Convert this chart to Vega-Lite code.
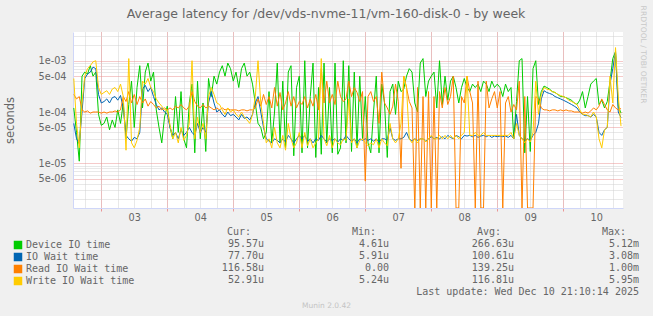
{
"$schema": "https://vega.github.io/schema/vega-lite/v6.json",
"width": 550, "height": 176,
"autosize": {"type": "none"},
"padding": {"left": 73, "top": 32, "right": 30, "bottom": 108},
"background": "#f0f0f0",
"config": {"view": {"fill": "#ffffff", "stroke": null}, "font": "DejaVu Sans"},
"title": {"text": "Average latency for /dev/vds-nvme-11/vm-160-disk-0 - by week", "font": "DejaVu Sans", "fontSize": 12.5, "fontWeight": "normal", "color": "#666666", "anchor": "middle", "frame": "group", "dx": -22, "offset": -15},
"datasets": {
"lat": [
{"t":"2025-12-02T14:00","Device IO time":1.2e-4,"IO Wait time":6e-5,"Read IO Wait time":2.2e-4,"Write IO Wait time":4.5e-4},
{"t":"2025-12-02T15:00","Device IO time":4e-5,"IO Wait time":3e-5,"Read IO Wait time":1.8e-4,"Write IO Wait time":6e-5},
{"t":"2025-12-02T16:00","Device IO time":1.1e-5,"IO Wait time":2.4e-5,"Read IO Wait time":2e-4,"Write IO Wait time":2e-5},
{"t":"2025-12-02T17:00","Device IO time":5e-4,"IO Wait time":1e-4,"Read IO Wait time":1.1e-4,"Write IO Wait time":1.5e-4},
{"t":"2025-12-02T18:00","Device IO time":6e-4,"IO Wait time":4.5e-4,"Read IO Wait time":1e-4,"Write IO Wait time":5e-4},
{"t":"2025-12-02T19:00","Device IO time":5.5e-4,"IO Wait time":5.5e-4,"Read IO Wait time":1.05e-4,"Write IO Wait time":7e-4},
{"t":"2025-12-02T20:00","Device IO time":8e-4,"IO Wait time":6e-4,"Read IO Wait time":9.5e-5,"Write IO Wait time":8e-4},
{"t":"2025-12-02T21:00","Device IO time":5e-4,"IO Wait time":7.5e-4,"Read IO Wait time":1e-4,"Write IO Wait time":9.5e-4},
{"t":"2025-12-02T22:00","Device IO time":6e-4,"IO Wait time":7e-4,"Read IO Wait time":1e-4,"Write IO Wait time":1e-3},
{"t":"2025-12-02T23:00","Device IO time":9e-5,"IO Wait time":2.2e-4,"Read IO Wait time":1e-4,"Write IO Wait time":3e-4},
{"t":"2025-12-03T00:00","Device IO time":5.5e-5,"IO Wait time":1.5e-4,"Read IO Wait time":9.5e-5,"Write IO Wait time":2.2e-4},
{"t":"2025-12-03T01:00","Device IO time":6e-5,"IO Wait time":1.6e-4,"Read IO Wait time":1e-4,"Write IO Wait time":2.4e-4},
{"t":"2025-12-03T02:00","Device IO time":8e-5,"IO Wait time":1.8e-4,"Read IO Wait time":9.5e-5,"Write IO Wait time":2.6e-4},
{"t":"2025-12-03T03:00","Device IO time":4.5e-5,"IO Wait time":1.5e-4,"Read IO Wait time":1e-4,"Write IO Wait time":2.2e-4},
{"t":"2025-12-03T04:00","Device IO time":7e-5,"IO Wait time":1.9e-4,"Read IO Wait time":1e-4,"Write IO Wait time":2.8e-4},
{"t":"2025-12-03T05:00","Device IO time":5e-5,"IO Wait time":2e-4,"Read IO Wait time":1.05e-4,"Write IO Wait time":3e-4},
{"t":"2025-12-03T06:00","Device IO time":1.1e-4,"IO Wait time":1.7e-4,"Read IO Wait time":1e-4,"Write IO Wait time":2.5e-4},
{"t":"2025-12-03T07:00","Device IO time":6e-5,"IO Wait time":2.1e-4,"Read IO Wait time":1.1e-4,"Write IO Wait time":3.5e-4},
{"t":"2025-12-03T08:00","Device IO time":1.5e-4,"IO Wait time":1.2e-4,"Read IO Wait time":2e-4,"Write IO Wait time":2e-4},
{"t":"2025-12-03T09:00","Device IO time":3e-5,"IO Wait time":3.5e-5,"Read IO Wait time":1.6e-4,"Write IO Wait time":1.8e-5},
{"t":"2025-12-03T10:00","Device IO time":1.4e-4,"IO Wait time":3e-5,"Read IO Wait time":2.5e-4,"Write IO Wait time":1.1e-3},
{"t":"2025-12-03T11:00","Device IO time":4e-4,"IO Wait time":2.7e-5,"Read IO Wait time":1.5e-4,"Write IO Wait time":2.5e-5},
{"t":"2025-12-03T12:00","Device IO time":5e-5,"IO Wait time":3.2e-5,"Read IO Wait time":2.2e-4,"Write IO Wait time":2e-5},
{"t":"2025-12-03T13:00","Device IO time":3e-4,"IO Wait time":3e-5,"Read IO Wait time":1.4e-4,"Write IO Wait time":2.8e-5},
{"t":"2025-12-03T14:00","Device IO time":8e-4,"IO Wait time":4e-5,"Read IO Wait time":2e-4,"Write IO Wait time":5e-5},
{"t":"2025-12-03T15:00","Device IO time":1.2e-4,"IO Wait time":2.8e-4,"Read IO Wait time":1.5e-4,"Write IO Wait time":4e-4},
{"t":"2025-12-03T16:00","Device IO time":6e-4,"IO Wait time":3.3e-4,"Read IO Wait time":1.8e-4,"Write IO Wait time":3.5e-4},
{"t":"2025-12-03T17:00","Device IO time":9e-4,"IO Wait time":2.5e-4,"Read IO Wait time":1.3e-4,"Write IO Wait time":4.5e-4},
{"t":"2025-12-03T18:00","Device IO time":4e-4,"IO Wait time":3e-4,"Read IO Wait time":1.6e-4,"Write IO Wait time":3e-4},
{"t":"2025-12-03T19:00","Device IO time":6e-4,"IO Wait time":2e-4,"Read IO Wait time":1.4e-4,"Write IO Wait time":2.5e-4},
{"t":"2025-12-03T20:00","Device IO time":1.1e-4,"IO Wait time":1.4e-4,"Read IO Wait time":1.2e-4,"Write IO Wait time":1.8e-4},
{"t":"2025-12-03T21:00","Device IO time":5e-5,"IO Wait time":1.1e-4,"Read IO Wait time":1.3e-4,"Write IO Wait time":1.5e-4},
{"t":"2025-12-03T22:00","Device IO time":2.5e-5,"IO Wait time":1.2e-4,"Read IO Wait time":1.1e-4,"Write IO Wait time":1.3e-4},
{"t":"2025-12-03T23:00","Device IO time":8e-5,"IO Wait time":1e-4,"Read IO Wait time":1.2e-4,"Write IO Wait time":1.1e-4},
{"t":"2025-12-04T00:00","Device IO time":1.3e-4,"IO Wait time":9e-5,"Read IO Wait time":1.1e-4,"Write IO Wait time":1.1e-4},
{"t":"2025-12-04T01:00","Device IO time":5e-5,"IO Wait time":5e-5,"Read IO Wait time":1.2e-4,"Write IO Wait time":5.5e-5},
{"t":"2025-12-04T02:00","Device IO time":3e-5,"IO Wait time":3.5e-5,"Read IO Wait time":1.1e-4,"Write IO Wait time":3e-5},
{"t":"2025-12-04T03:00","Device IO time":2e-4,"IO Wait time":4e-5,"Read IO Wait time":1.3e-4,"Write IO Wait time":4e-5},
{"t":"2025-12-04T04:00","Device IO time":4e-5,"IO Wait time":3e-5,"Read IO Wait time":1.2e-4,"Write IO Wait time":2.5e-5},
{"t":"2025-12-04T05:00","Device IO time":2.5e-4,"IO Wait time":4.5e-5,"Read IO Wait time":1.4e-4,"Write IO Wait time":5e-5},
{"t":"2025-12-04T06:00","Device IO time":3e-5,"IO Wait time":3.5e-5,"Read IO Wait time":1.2e-4,"Write IO Wait time":2.8e-5},
{"t":"2025-12-04T07:00","Device IO time":2e-5,"IO Wait time":4e-5,"Read IO Wait time":1.1e-4,"Write IO Wait time":3.5e-5},
{"t":"2025-12-04T08:00","Device IO time":1.5e-4,"IO Wait time":5e-5,"Read IO Wait time":1.3e-4,"Write IO Wait time":6e-5},
{"t":"2025-12-04T09:00","Device IO time":3.5e-4,"IO Wait time":4e-5,"Read IO Wait time":2.5e-4,"Write IO Wait time":1e-3},
{"t":"2025-12-04T10:00","Device IO time":1.6e-5,"IO Wait time":3.5e-5,"Read IO Wait time":1.6e-4,"Write IO Wait time":3e-5},
{"t":"2025-12-04T11:00","Device IO time":4e-4,"IO Wait time":6e-5,"Read IO Wait time":1.3e-4,"Write IO Wait time":8e-5},
{"t":"2025-12-04T12:00","Device IO time":3e-5,"IO Wait time":4e-5,"Read IO Wait time":1.2e-4,"Write IO Wait time":4e-5},
{"t":"2025-12-04T13:00","Device IO time":1.5e-4,"IO Wait time":5e-5,"Read IO Wait time":1.4e-4,"Write IO Wait time":6e-5},
{"t":"2025-12-04T14:00","Device IO time":1.7e-5,"IO Wait time":4e-5,"Read IO Wait time":1.2e-4,"Write IO Wait time":3e-5},
{"t":"2025-12-04T15:00","Device IO time":4.5e-4,"IO Wait time":1.5e-4,"Read IO Wait time":1.3e-4,"Write IO Wait time":2e-4},
{"t":"2025-12-04T16:00","Device IO time":2e-4,"IO Wait time":2.5e-4,"Read IO Wait time":1.2e-4,"Write IO Wait time":3e-4},
{"t":"2025-12-04T17:00","Device IO time":5e-4,"IO Wait time":1.5e-4,"Read IO Wait time":1.1e-4,"Write IO Wait time":2.2e-4},
{"t":"2025-12-04T18:00","Device IO time":3.5e-4,"IO Wait time":1e-4,"Read IO Wait time":1.2e-4,"Write IO Wait time":1.5e-4},
{"t":"2025-12-04T19:00","Device IO time":6e-4,"IO Wait time":1.1e-4,"Read IO Wait time":1.1e-4,"Write IO Wait time":1.4e-4},
{"t":"2025-12-04T20:00","Device IO time":8e-4,"IO Wait time":9e-5,"Read IO Wait time":1.2e-4,"Write IO Wait time":1.1e-4},
{"t":"2025-12-04T21:00","Device IO time":5e-4,"IO Wait time":8e-5,"Read IO Wait time":1.1e-4,"Write IO Wait time":9e-5},
{"t":"2025-12-04T22:00","Device IO time":9e-4,"IO Wait time":1e-4,"Read IO Wait time":1.15e-4,"Write IO Wait time":1.2e-4},
{"t":"2025-12-04T23:00","Device IO time":7e-4,"IO Wait time":8.5e-5,"Read IO Wait time":1.1e-4,"Write IO Wait time":1e-4},
{"t":"2025-12-05T00:00","Device IO time":4e-4,"IO Wait time":9e-5,"Read IO Wait time":1.1e-4,"Write IO Wait time":1.1e-4},
{"t":"2025-12-05T01:00","Device IO time":6e-4,"IO Wait time":8e-5,"Read IO Wait time":1.1e-4,"Write IO Wait time":9e-5},
{"t":"2025-12-05T02:00","Device IO time":3e-4,"IO Wait time":7e-5,"Read IO Wait time":1.05e-4,"Write IO Wait time":8e-5},
{"t":"2025-12-05T03:00","Device IO time":7e-4,"IO Wait time":9e-5,"Read IO Wait time":1.1e-4,"Write IO Wait time":1e-4},
{"t":"2025-12-05T04:00","Device IO time":9e-4,"IO Wait time":7.5e-5,"Read IO Wait time":1.1e-4,"Write IO Wait time":8e-5},
{"t":"2025-12-05T05:00","Device IO time":5e-4,"IO Wait time":8e-5,"Read IO Wait time":1.05e-4,"Write IO Wait time":7e-5},
{"t":"2025-12-05T06:00","Device IO time":6e-4,"IO Wait time":7e-5,"Read IO Wait time":1.1e-4,"Write IO Wait time":6e-5},
{"t":"2025-12-05T07:00","Device IO time":3.5e-4,"IO Wait time":9e-5,"Read IO Wait time":1.1e-4,"Write IO Wait time":9e-5},
{"t":"2025-12-05T08:00","Device IO time":1.5e-4,"IO Wait time":1.5e-4,"Read IO Wait time":1.2e-4,"Write IO Wait time":2e-4},
{"t":"2025-12-05T09:00","Device IO time":6e-5,"IO Wait time":2e-4,"Read IO Wait time":1.8e-4,"Write IO Wait time":1e-3},
{"t":"2025-12-05T10:00","Device IO time":5e-5,"IO Wait time":1e-4,"Read IO Wait time":1.3e-4,"Write IO Wait time":1.5e-4},
{"t":"2025-12-05T11:00","Device IO time":3e-5,"IO Wait time":5e-5,"Read IO Wait time":2.2e-4,"Write IO Wait time":6e-5},
{"t":"2025-12-05T12:00","Device IO time":4e-5,"IO Wait time":3e-5,"Read IO Wait time":1.4e-4,"Write IO Wait time":2.5e-5},
{"t":"2025-12-05T13:00","Device IO time":2.5e-4,"IO Wait time":2.7e-5,"Read IO Wait time":2e-4,"Write IO Wait time":3e-5},
{"t":"2025-12-05T14:00","Device IO time":2.5e-5,"IO Wait time":2.5e-5,"Read IO Wait time":1.2e-4,"Write IO Wait time":2e-5},
{"t":"2025-12-05T15:00","Device IO time":1e-4,"IO Wait time":3e-5,"Read IO Wait time":3e-4,"Write IO Wait time":5e-5},
{"t":"2025-12-05T16:00","Device IO time":9e-4,"IO Wait time":2.8e-5,"Read IO Wait time":1.3e-4,"Write IO Wait time":2.5e-5},
{"t":"2025-12-05T17:00","Device IO time":2.5e-5,"IO Wait time":2.5e-5,"Read IO Wait time":2.4e-4,"Write IO Wait time":2e-5},
{"t":"2025-12-05T18:00","Device IO time":4e-4,"IO Wait time":3e-5,"Read IO Wait time":1.1e-4,"Write IO Wait time":3.5e-5},
{"t":"2025-12-05T19:00","Device IO time":2e-5,"IO Wait time":2.6e-5,"Read IO Wait time":1.5e-4,"Write IO Wait time":1.8e-5},
{"t":"2025-12-05T20:00","Device IO time":6e-4,"IO Wait time":3.5e-5,"Read IO Wait time":2.5e-4,"Write IO Wait time":6e-5},
{"t":"2025-12-05T21:00","Device IO time":8e-4,"IO Wait time":3e-5,"Read IO Wait time":1.3e-4,"Write IO Wait time":3e-5},
{"t":"2025-12-05T22:00","Device IO time":1.4e-5,"IO Wait time":2.5e-5,"Read IO Wait time":2e-4,"Write IO Wait time":2e-5},
{"t":"2025-12-05T23:00","Device IO time":3e-4,"IO Wait time":3e-5,"Read IO Wait time":1.2e-4,"Write IO Wait time":2.5e-5},
{"t":"2025-12-06T00:00","Device IO time":5e-4,"IO Wait time":3.5e-5,"Read IO Wait time":1.6e-4,"Write IO Wait time":4e-5},
{"t":"2025-12-06T01:00","Device IO time":1.6e-5,"IO Wait time":3e-5,"Read IO Wait time":1.4e-4,"Write IO Wait time":2e-5},
{"t":"2025-12-06T02:00","Device IO time":1e-3,"IO Wait time":3.5e-5,"Read IO Wait time":2e-4,"Write IO Wait time":4e-5},
{"t":"2025-12-06T03:00","Device IO time":2e-5,"IO Wait time":2.7e-5,"Read IO Wait time":1.2e-4,"Write IO Wait time":2.2e-5},
{"t":"2025-12-06T04:00","Device IO time":2e-4,"IO Wait time":3e-5,"Read IO Wait time":1.8e-4,"Write IO Wait time":3e-5},
{"t":"2025-12-06T05:00","Device IO time":9e-4,"IO Wait time":2.5e-5,"Read IO Wait time":1.3e-4,"Write IO Wait time":2e-5},
{"t":"2025-12-06T06:00","Device IO time":1.3e-5,"IO Wait time":3e-5,"Read IO Wait time":2.2e-4,"Write IO Wait time":2.5e-5},
{"t":"2025-12-06T07:00","Device IO time":3e-4,"IO Wait time":2.8e-5,"Read IO Wait time":1.1e-4,"Write IO Wait time":3e-5},
{"t":"2025-12-06T08:00","Device IO time":1.5e-5,"IO Wait time":3.5e-5,"Read IO Wait time":7e-4,"Write IO Wait time":1.1e-3},
{"t":"2025-12-06T09:00","Device IO time":9e-4,"IO Wait time":3e-5,"Read IO Wait time":1.5e-4,"Write IO Wait time":3e-5},
{"t":"2025-12-06T10:00","Device IO time":2.5e-5,"IO Wait time":2.6e-5,"Read IO Wait time":4e-4,"Write IO Wait time":2.2e-5},
{"t":"2025-12-06T11:00","Device IO time":3e-4,"IO Wait time":3e-5,"Read IO Wait time":1.5e-4,"Write IO Wait time":3.5e-5},
{"t":"2025-12-06T12:00","Device IO time":1.6e-5,"IO Wait time":2.8e-5,"Read IO Wait time":2.2e-4,"Write IO Wait time":2e-5},
{"t":"2025-12-06T13:00","Device IO time":9e-4,"IO Wait time":3e-5,"Read IO Wait time":1.4e-4,"Write IO Wait time":3e-5},
{"t":"2025-12-06T14:00","Device IO time":1.5e-5,"IO Wait time":2.6e-5,"Read IO Wait time":4e-4,"Write IO Wait time":2.5e-5},
{"t":"2025-12-06T15:00","Device IO time":2e-5,"IO Wait time":3e-5,"Read IO Wait time":2e-4,"Write IO Wait time":2.3e-5},
{"t":"2025-12-06T16:00","Device IO time":1e-3,"IO Wait time":2.8e-5,"Read IO Wait time":1.6e-4,"Write IO Wait time":3e-5},
{"t":"2025-12-06T17:00","Device IO time":2.5e-5,"IO Wait time":3.5e-5,"Read IO Wait time":1.8e-4,"Write IO Wait time":2.8e-5},
{"t":"2025-12-06T18:00","Device IO time":8e-4,"IO Wait time":3e-5,"Read IO Wait time":4e-4,"Write IO Wait time":1.8e-4},
{"t":"2025-12-06T19:00","Device IO time":1.7e-5,"IO Wait time":2.7e-5,"Read IO Wait time":2e-4,"Write IO Wait time":2.5e-5},
{"t":"2025-12-06T20:00","Device IO time":6e-4,"IO Wait time":3e-5,"Read IO Wait time":3e-4,"Write IO Wait time":3e-5},
{"t":"2025-12-06T21:00","Device IO time":2e-5,"IO Wait time":2.5e-5,"Read IO Wait time":2.4e-4,"Write IO Wait time":2e-5},
{"t":"2025-12-06T22:00","Device IO time":5e-4,"IO Wait time":3e-5,"Read IO Wait time":1.6e-4,"Write IO Wait time":2.8e-5},
{"t":"2025-12-06T23:00","Device IO time":3e-5,"IO Wait time":2.8e-5,"Read IO Wait time":2.5e-4,"Write IO Wait time":3e-5},
{"t":"2025-12-07T00:00","Device IO time":2e-4,"IO Wait time":3e-5,"Read IO Wait time":4.5e-6,"Write IO Wait time":2.5e-5},
{"t":"2025-12-07T01:00","Device IO time":2.5e-5,"IO Wait time":2.8e-5,"Read IO Wait time":2e-4,"Write IO Wait time":2.2e-5},
{"t":"2025-12-07T02:00","Device IO time":1.6e-5,"IO Wait time":3e-5,"Read IO Wait time":2.5e-4,"Write IO Wait time":2.5e-5},
{"t":"2025-12-07T03:00","Device IO time":1e-4,"IO Wait time":2.7e-5,"Read IO Wait time":1.6e-4,"Write IO Wait time":2.3e-5},
{"t":"2025-12-07T04:00","Device IO time":5e-4,"IO Wait time":3e-5,"Read IO Wait time":2e-4,"Write IO Wait time":3e-5},
{"t":"2025-12-07T05:00","Device IO time":1.6e-5,"IO Wait time":2.6e-5,"Read IO Wait time":6e-5,"Write IO Wait time":2e-5},
{"t":"2025-12-07T06:00","Device IO time":3.5e-4,"IO Wait time":3e-5,"Read IO Wait time":6e-4,"Write IO Wait time":3e-5},
{"t":"2025-12-07T07:00","Device IO time":1.5e-4,"IO Wait time":3e-5,"Read IO Wait time":1.5e-4,"Write IO Wait time":2.5e-5},
{"t":"2025-12-07T08:00","Device IO time":1.3e-5,"IO Wait time":2.8e-5,"Read IO Wait time":1.2e-4,"Write IO Wait time":2.2e-5},
{"t":"2025-12-07T09:00","Device IO time":2.5e-4,"IO Wait time":5e-5,"Read IO Wait time":9e-5,"Write IO Wait time":6e-5},
{"t":"2025-12-07T10:00","Device IO time":3.5e-4,"IO Wait time":3e-5,"Read IO Wait time":1.3e-4,"Write IO Wait time":3e-5},
{"t":"2025-12-07T11:00","Device IO time":9e-5,"IO Wait time":2.8e-5,"Read IO Wait time":3.5e-4,"Write IO Wait time":2.5e-5},
{"t":"2025-12-07T12:00","Device IO time":4e-4,"IO Wait time":3e-5,"Read IO Wait time":1.6e-4,"Write IO Wait time":3e-5},
{"t":"2025-12-07T13:00","Device IO time":2.5e-4,"IO Wait time":3e-5,"Read IO Wait time":8e-6,"Write IO Wait time":6e-5},
{"t":"2025-12-07T14:00","Device IO time":2.8e-4,"IO Wait time":3.2e-5,"Read IO Wait time":5e-4,"Write IO Wait time":5e-4},
{"t":"2025-12-07T15:00","Device IO time":5e-4,"IO Wait time":4e-5,"Read IO Wait time":3e-4,"Write IO Wait time":3e-4},
{"t":"2025-12-07T16:00","Device IO time":7e-4,"IO Wait time":3e-5,"Read IO Wait time":1.6e-4,"Write IO Wait time":3e-5},
{"t":"2025-12-07T17:00","Device IO time":6e-4,"IO Wait time":2.7e-5,"Read IO Wait time":1.2e-4,"Write IO Wait time":2.5e-5},
{"t":"2025-12-07T18:00","Device IO time":1.5e-4,"IO Wait time":3e-5,"Read IO Wait time":0,"Write IO Wait time":3e-5},
{"t":"2025-12-07T19:00","Device IO time":1e-4,"IO Wait time":2.8e-5,"Read IO Wait time":3e-4,"Write IO Wait time":2.5e-5},
{"t":"2025-12-07T20:00","Device IO time":9e-4,"IO Wait time":3e-5,"Read IO Wait time":0,"Write IO Wait time":3e-5},
{"t":"2025-12-07T21:00","Device IO time":1.1e-3,"IO Wait time":3e-5,"Read IO Wait time":2e-4,"Write IO Wait time":3e-5},
{"t":"2025-12-07T22:00","Device IO time":2e-4,"IO Wait time":2.7e-5,"Read IO Wait time":0,"Write IO Wait time":2.6e-5},
{"t":"2025-12-07T23:00","Device IO time":4e-4,"IO Wait time":3e-5,"Read IO Wait time":2.5e-4,"Write IO Wait time":3e-5},
{"t":"2025-12-08T00:00","Device IO time":5e-4,"IO Wait time":3.3e-5,"Read IO Wait time":0,"Write IO Wait time":3.5e-5},
{"t":"2025-12-08T01:00","Device IO time":6e-4,"IO Wait time":3e-5,"Read IO Wait time":2e-4,"Write IO Wait time":3e-5},
{"t":"2025-12-08T02:00","Device IO time":1.2e-4,"IO Wait time":3.2e-5,"Read IO Wait time":0,"Write IO Wait time":3e-5},
{"t":"2025-12-08T03:00","Device IO time":1e-3,"IO Wait time":3e-5,"Read IO Wait time":2.5e-4,"Write IO Wait time":3.5e-5},
{"t":"2025-12-08T04:00","Device IO time":1.4e-4,"IO Wait time":3.3e-5,"Read IO Wait time":1.2e-4,"Write IO Wait time":3e-5},
{"t":"2025-12-08T05:00","Device IO time":5e-4,"IO Wait time":3e-5,"Read IO Wait time":3e-4,"Write IO Wait time":3.5e-5},
{"t":"2025-12-08T06:00","Device IO time":1.7e-4,"IO Wait time":3.5e-5,"Read IO Wait time":1.4e-4,"Write IO Wait time":3e-5},
{"t":"2025-12-08T07:00","Device IO time":4e-4,"IO Wait time":3.2e-5,"Read IO Wait time":2e-4,"Write IO Wait time":3.5e-5},
{"t":"2025-12-08T08:00","Device IO time":5e-4,"IO Wait time":3e-5,"Read IO Wait time":5e-4,"Write IO Wait time":3e-5},
{"t":"2025-12-08T09:00","Device IO time":3e-4,"IO Wait time":3.5e-5,"Read IO Wait time":0,"Write IO Wait time":3.5e-5},
{"t":"2025-12-08T10:00","Device IO time":1.5e-4,"IO Wait time":3.3e-5,"Read IO Wait time":0,"Write IO Wait time":3e-5},
{"t":"2025-12-08T11:00","Device IO time":3e-4,"IO Wait time":3e-5,"Read IO Wait time":2e-4,"Write IO Wait time":3.5e-5},
{"t":"2025-12-08T12:00","Device IO time":4.5e-4,"IO Wait time":3.5e-5,"Read IO Wait time":1.5e-4,"Write IO Wait time":4e-5},
{"t":"2025-12-08T13:00","Device IO time":3e-4,"IO Wait time":3.4e-5,"Read IO Wait time":5e-4,"Write IO Wait time":5e-4},
{"t":"2025-12-08T14:00","Device IO time":2.5e-4,"IO Wait time":3.5e-5,"Read IO Wait time":2.5e-4,"Write IO Wait time":3.5e-5},
{"t":"2025-12-08T15:00","Device IO time":3.5e-4,"IO Wait time":3.3e-5,"Read IO Wait time":1.5e-4,"Write IO Wait time":3.5e-5},
{"t":"2025-12-08T16:00","Device IO time":3e-4,"IO Wait time":3.5e-5,"Read IO Wait time":0,"Write IO Wait time":4e-5},
{"t":"2025-12-08T17:00","Device IO time":3.5e-4,"IO Wait time":3.2e-5,"Read IO Wait time":4e-4,"Write IO Wait time":3.5e-5},
{"t":"2025-12-08T18:00","Device IO time":2.5e-4,"IO Wait time":3.4e-5,"Read IO Wait time":0,"Write IO Wait time":3.5e-5},
{"t":"2025-12-08T19:00","Device IO time":4e-4,"IO Wait time":3.5e-5,"Read IO Wait time":0,"Write IO Wait time":4e-5},
{"t":"2025-12-08T20:00","Device IO time":3.5e-4,"IO Wait time":3.3e-5,"Read IO Wait time":4e-4,"Write IO Wait time":3.5e-5},
{"t":"2025-12-08T21:00","Device IO time":2.5e-4,"IO Wait time":3.5e-5,"Read IO Wait time":1.2e-4,"Write IO Wait time":3.5e-5},
{"t":"2025-12-08T22:00","Device IO time":4e-4,"IO Wait time":3.2e-5,"Read IO Wait time":1.8e-4,"Write IO Wait time":3.5e-5},
{"t":"2025-12-08T23:00","Device IO time":3e-4,"IO Wait time":3.4e-5,"Read IO Wait time":2.5e-4,"Write IO Wait time":3.5e-5},
{"t":"2025-12-09T00:00","Device IO time":3.5e-4,"IO Wait time":3.3e-5,"Read IO Wait time":1.2e-4,"Write IO Wait time":3.5e-5},
{"t":"2025-12-09T01:00","Device IO time":3e-4,"IO Wait time":3.4e-5,"Read IO Wait time":2.5e-4,"Write IO Wait time":3.5e-5},
{"t":"2025-12-09T02:00","Device IO time":2e-4,"IO Wait time":3.3e-5,"Read IO Wait time":0,"Write IO Wait time":3.5e-5},
{"t":"2025-12-09T03:00","Device IO time":3.5e-4,"IO Wait time":3.4e-5,"Read IO Wait time":1.5e-4,"Write IO Wait time":3.5e-5},
{"t":"2025-12-09T04:00","Device IO time":2.5e-4,"IO Wait time":3.2e-5,"Read IO Wait time":2e-4,"Write IO Wait time":3.5e-5},
{"t":"2025-12-09T05:00","Device IO time":3e-4,"IO Wait time":3.5e-5,"Read IO Wait time":1e-4,"Write IO Wait time":4e-5},
{"t":"2025-12-09T06:00","Device IO time":3e-5,"IO Wait time":3e-5,"Read IO Wait time":1.4e-4,"Write IO Wait time":3e-5},
{"t":"2025-12-09T07:00","Device IO time":1.6e-4,"IO Wait time":9e-5,"Read IO Wait time":1.1e-4,"Write IO Wait time":6e-5},
{"t":"2025-12-09T08:00","Device IO time":1e-3,"IO Wait time":3.5e-5,"Read IO Wait time":4e-4,"Write IO Wait time":3.5e-5},
{"t":"2025-12-09T09:00","Device IO time":1.1e-3,"IO Wait time":3e-5,"Read IO Wait time":0,"Write IO Wait time":3e-5},
{"t":"2025-12-09T10:00","Device IO time":1.6e-5,"IO Wait time":2.8e-5,"Read IO Wait time":2e-4,"Write IO Wait time":2.5e-5},
{"t":"2025-12-09T11:00","Device IO time":2e-4,"IO Wait time":3e-5,"Read IO Wait time":0,"Write IO Wait time":3e-5},
{"t":"2025-12-09T12:00","Device IO time":1.7e-5,"IO Wait time":2.8e-5,"Read IO Wait time":0,"Write IO Wait time":2.6e-5},
{"t":"2025-12-09T13:00","Device IO time":7e-4,"IO Wait time":3.5e-5,"Read IO Wait time":0,"Write IO Wait time":4e-5},
{"t":"2025-12-09T14:00","Device IO time":1e-3,"IO Wait time":4e-5,"Read IO Wait time":2e-4,"Write IO Wait time":4e-4},
{"t":"2025-12-09T15:00","Device IO time":1.4e-4,"IO Wait time":6e-5,"Read IO Wait time":1.8e-4,"Write IO Wait time":9e-5},
{"t":"2025-12-09T16:00","Device IO time":2.5e-4,"IO Wait time":1.8e-4,"Read IO Wait time":1.2e-4,"Write IO Wait time":2.2e-4},
{"t":"2025-12-09T17:00","Device IO time":3.2e-4,"IO Wait time":2.6e-4,"Read IO Wait time":1.1e-4,"Write IO Wait time":3e-4},
{"t":"2025-12-09T18:00","Device IO time":3e-4,"IO Wait time":2.4e-4,"Read IO Wait time":1.1e-4,"Write IO Wait time":2.8e-4},
{"t":"2025-12-09T19:00","Device IO time":2.8e-4,"IO Wait time":2.3e-4,"Read IO Wait time":1.05e-4,"Write IO Wait time":2.7e-4},
{"t":"2025-12-09T20:00","Device IO time":2.5e-4,"IO Wait time":2.2e-4,"Read IO Wait time":1.1e-4,"Write IO Wait time":2.5e-4},
{"t":"2025-12-09T21:00","Device IO time":2.4e-4,"IO Wait time":2e-4,"Read IO Wait time":1.1e-4,"Write IO Wait time":2.4e-4},
{"t":"2025-12-09T22:00","Device IO time":2.2e-4,"IO Wait time":1.9e-4,"Read IO Wait time":1.05e-4,"Write IO Wait time":2.2e-4},
{"t":"2025-12-09T23:00","Device IO time":2e-4,"IO Wait time":1.8e-4,"Read IO Wait time":1.1e-4,"Write IO Wait time":2.1e-4},
{"t":"2025-12-10T00:00","Device IO time":2e-4,"IO Wait time":1.7e-4,"Read IO Wait time":1.05e-4,"Write IO Wait time":2e-4},
{"t":"2025-12-10T01:00","Device IO time":1.9e-4,"IO Wait time":1.6e-4,"Read IO Wait time":1.1e-4,"Write IO Wait time":1.9e-4},
{"t":"2025-12-10T02:00","Device IO time":1.8e-4,"IO Wait time":1.5e-4,"Read IO Wait time":1.05e-4,"Write IO Wait time":1.7e-4},
{"t":"2025-12-10T03:00","Device IO time":1.7e-4,"IO Wait time":1.4e-4,"Read IO Wait time":1.05e-4,"Write IO Wait time":1.6e-4},
{"t":"2025-12-10T04:00","Device IO time":1.5e-4,"IO Wait time":1.3e-4,"Read IO Wait time":1e-4,"Write IO Wait time":1.5e-4},
{"t":"2025-12-10T05:00","Device IO time":1.4e-4,"IO Wait time":1.2e-4,"Read IO Wait time":1e-4,"Write IO Wait time":1.4e-4},
{"t":"2025-12-10T06:00","Device IO time":1.7e-4,"IO Wait time":1e-4,"Read IO Wait time":1e-4,"Write IO Wait time":1.1e-4},
{"t":"2025-12-10T07:00","Device IO time":2.5e-4,"IO Wait time":9e-5,"Read IO Wait time":9.5e-5,"Write IO Wait time":9e-5},
{"t":"2025-12-10T08:00","Device IO time":1.2e-4,"IO Wait time":8.5e-5,"Read IO Wait time":1e-4,"Write IO Wait time":9e-5},
{"t":"2025-12-10T09:00","Device IO time":2e-4,"IO Wait time":8.5e-5,"Read IO Wait time":9.5e-5,"Write IO Wait time":8.5e-5},
{"t":"2025-12-10T10:00","Device IO time":3.5e-4,"IO Wait time":8e-5,"Read IO Wait time":1.05e-4,"Write IO Wait time":8e-5},
{"t":"2025-12-10T11:00","Device IO time":4e-4,"IO Wait time":9e-5,"Read IO Wait time":1.2e-4,"Write IO Wait time":1e-4},
{"t":"2025-12-10T12:00","Device IO time":4.5e-4,"IO Wait time":8e-5,"Read IO Wait time":1.1e-4,"Write IO Wait time":8e-5},
{"t":"2025-12-10T13:00","Device IO time":1.4e-4,"IO Wait time":4e-5,"Read IO Wait time":1.3e-4,"Write IO Wait time":3e-5},
{"t":"2025-12-10T14:00","Device IO time":1.7e-4,"IO Wait time":3.5e-5,"Read IO Wait time":1.8e-4,"Write IO Wait time":2e-5},
{"t":"2025-12-10T15:00","Device IO time":1.2e-4,"IO Wait time":4.5e-5,"Read IO Wait time":1.4e-4,"Write IO Wait time":4.5e-5},
{"t":"2025-12-10T16:00","Device IO time":1.6e-4,"IO Wait time":5e-5,"Read IO Wait time":1.1e-4,"Write IO Wait time":5e-5},
{"t":"2025-12-10T17:00","Device IO time":4e-4,"IO Wait time":3.5e-4,"Read IO Wait time":1e-4,"Write IO Wait time":5e-4},
{"t":"2025-12-10T18:00","Device IO time":1.1e-3,"IO Wait time":7e-4,"Read IO Wait time":1.4e-4,"Write IO Wait time":1.5e-4},
{"t":"2025-12-10T19:00","Device IO time":1.5e-3,"IO Wait time":1.5e-3,"Read IO Wait time":1.2e-4,"Write IO Wait time":1.8e-3},
{"t":"2025-12-10T20:00","Device IO time":1.3e-4,"IO Wait time":1e-4,"Read IO Wait time":1.1e-4,"Write IO Wait time":2e-4},
{"t":"2025-12-10T21:00","Device IO time":9.5e-5,"IO Wait time":7.8e-5,"Read IO Wait time":1.17e-4,"Write IO Wait time":5.3e-5}
],
"stats": [
{"r":"Device IO time","k":"cur","v":"95.57u"},{"r":"Device IO time","k":"min","v":"4.61u"},{"r":"Device IO time","k":"avg","v":"266.63u"},{"r":"Device IO time","k":"max","v":"5.12m"},
{"r":"IO Wait time","k":"cur","v":"77.70u"},{"r":"IO Wait time","k":"min","v":"5.91u"},{"r":"IO Wait time","k":"avg","v":"100.61u"},{"r":"IO Wait time","k":"max","v":"3.08m"},
{"r":"Read IO Wait time","k":"cur","v":"116.58u"},{"r":"Read IO Wait time","k":"min","v":"0.00\u00a0"},{"r":"Read IO Wait time","k":"avg","v":"139.25u"},{"r":"Read IO Wait time","k":"max","v":"1.00m"},
{"r":"Write IO Wait time","k":"cur","v":"52.91u"},{"r":"Write IO Wait time","k":"min","v":"5.24u"},{"r":"Write IO Wait time","k":"avg","v":"116.81u"},{"r":"Write IO Wait time","k":"max","v":"5.95m"},
{"r":"upd","k":"max","v":"Last update: Wed Dec 10 21:10:14 2025"}
],
"head": [
{"r":"hdr","k":"cur","v":"Cur:"},{"r":"hdr","k":"min","v":"Min:"},{"r":"hdr","k":"avg","v":"Avg:"},{"r":"hdr","k":"max","v":"Max:"}
]
},
"layer": [
{
"data": {"name": "lat"},
"mark": {"type": "point", "opacity": 0},
"encoding": {
"x": {"field": "t", "type": "temporal",
 "scale": {"domain": [{"year": 2025, "month": 12, "date": 2, "hours": 13, "minutes": 43}, {"year": 2025, "month": 12, "date": 10, "hours": 21, "minutes": 43}]},
 "axis": {"orient": "bottom", "tickCount": 33, "grid": true, "gridColor": "#d0d0d0", "gridDash": [1, 1], "labels": false, "ticks": false, "domain": false, "title": null}},
"y": {"field": "Device IO time", "type": "quantitative",
 "scale": {"type": "log", "domain": [1.345e-6, 3.627e-3]},
 "axis": {"orient": "left", "values": [2e-6, 3e-6, 4e-6, 6e-6, 7e-6, 8e-6, 9e-6, 2e-5, 3e-5, 4e-5, 6e-5, 7e-5, 8e-5, 9e-5, 2e-4, 3e-4, 4e-4, 6e-4, 7e-4, 8e-4, 9e-4, 2e-3, 3e-3],
  "grid": true, "gridColor": "#d0d0d0", "gridDash": [1, 1], "labels": false, "ticks": false, "domain": false, "title": null}}
}
},
{
"data": {"name": "lat"},
"transform": [{"fold": ["Device IO time", "IO Wait time", "Read IO Wait time", "Write IO Wait time"], "as": ["s", "v"]}],
"mark": {"type": "line", "strokeWidth": 1, "clip": true},
"encoding": {
"x": {"field": "t", "type": "temporal",
 "scale": {"domain": [{"year": 2025, "month": 12, "date": 2, "hours": 13, "minutes": 43}, {"year": 2025, "month": 12, "date": 10, "hours": 21, "minutes": 43}]},
 "axis": {"orient": "bottom", "tickCount": 8, "grid": true, "gridColor": "#eb9595", "gridDash": [1, 1],
  "ticks": true, "tickSize": 3, "tickColor": "#eb9595",
  "format": "%d", "labelOffset": 33,
  "labelFont": "DejaVu Sans", "labelFontSize": 9.7, "labelColor": "#666666", "labelPadding": 1,
  "domainColor": "#cfd6f8",
  "title": "Munin 2.0.42", "titleFont": "DejaVu Sans", "titleFontSize": 7.5, "titleFontWeight": "normal", "titleColor": "#c4c4c4", "titleX": 253, "titleY": 97, "titleAlign": "center", "titleBaseline": "middle"}},
"y": {"field": "v", "type": "quantitative",
 "scale": {"type": "log", "domain": [1.345e-6, 3.627e-3], "clamp": true},
 "axis": {"orient": "left", "values": [5e-6, 1e-5, 5e-5, 1e-4, 5e-4, 1e-3], "format": ".0e",
  "labelExpr": "replace(datum.label, 'e-', 'e-0')",
  "grid": true, "gridColor": "#eb9595", "gridDash": [1, 1], "ticks": false,
  "labelFont": "DejaVu Sans", "labelFontSize": 9.7, "labelColor": "#666666", "labelPadding": 7,
  "domainColor": "#cfd6f8",
  "title": "seconds", "titleFont": "DejaVu Sans", "titleFontSize": 11.5, "titleFontWeight": "normal", "titleColor": "#666666", "titleX": -62.5, "titleY": 88, "titleAngle": -90, "titleAlign": "center", "titleBaseline": "middle"}},
"color": {"field": "s", "type": "nominal",
 "scale": {"domain": ["Device IO time", "IO Wait time", "Read IO Wait time", "Write IO Wait time"], "range": ["#00cc00", "#0066b3", "#ff8000", "#ffcc00"]},
 "legend": {"orient": "none", "legendX": -60, "legendY": 208, "direction": "vertical", "title": null,
  "symbolType": "square", "symbolSize": 49,
  "labelFont": "DejaVu Sans Mono", "labelFontSize": 10, "labelColor": "#666666", "labelOffset": 3, "rowPadding": -2, "padding": 0,
  "encode": {"symbols": {"update": {"fill": {"scale": "color", "field": "value"}, "stroke": {"value": "transparent"}, "opacity": {"value": 1}}}}}}
}
},
{
"data": {"name": "stats"},
"mark": {"type": "text", "align": "right", "baseline": "middle", "font": "DejaVu Sans Mono", "fontSize": 10, "color": "#666666"},
"encoding": {
"x": {"field": "k", "type": "nominal", "scale": {"type": "point", "domain": ["cur", "min", "avg", "max"], "range": [191, 566], "padding": 0}, "axis": null},
"y": {"field": "r", "type": "nominal", "scale": {"type": "point", "domain": ["hdr", "Device IO time", "IO Wait time", "Read IO Wait time", "Write IO Wait time", "upd"], "range": [200, 260], "padding": 0}, "axis": null},
"text": {"field": "v"}
}
},
{
"data": {"name": "head"},
"mark": {"type": "text", "align": "right", "baseline": "middle", "font": "DejaVu Sans Mono", "fontSize": 10, "color": "#666666", "dx": -13},
"encoding": {
"x": {"field": "k", "type": "nominal", "scale": {"type": "point", "domain": ["cur", "min", "avg", "max"], "range": [191, 566], "padding": 0}, "axis": null},
"y": {"field": "r", "type": "nominal", "scale": {"type": "point", "domain": ["hdr", "Device IO time", "IO Wait time", "Read IO Wait time", "Write IO Wait time", "upd"], "range": [200, 260], "padding": 0},
 "axis": {"orient": "right", "domain": false, "ticks": false, "labels": false, "grid": false,
  "title": "RRDTOOL / TOBI OETIKER", "titleFont": "DejaVu Sans", "titleFontSize": 7.6, "titleFontWeight": "normal", "titleColor": "#c8c8c8", "titleAngle": 90, "titleX": 19, "titleY": 22, "titleAlign": "center", "titleBaseline": "middle"}},
"text": {"field": "v"}
}
}
],
"resolve": {"scale": {"x": "independent", "y": "independent"}, "axis": {"x": "independent", "y": "independent"}}
}
